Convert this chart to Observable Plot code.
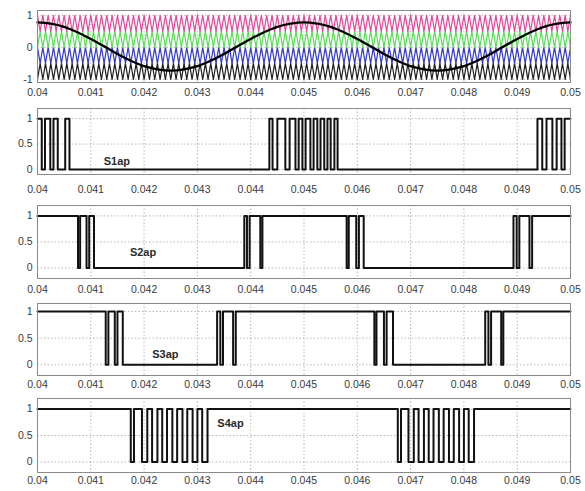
<!DOCTYPE html>
<html><head><meta charset="utf-8">
<script src="https://cdn.jsdelivr.net/npm/d3@7"></script>
<script src="https://cdn.jsdelivr.net/npm/@observablehq/plot@0.6"></script>
<style>
body{margin:0;background:#fff;}
#chart{position:relative;width:585px;height:491px;overflow:hidden;}
#chart svg{position:absolute;left:0;}
</style></head><body><div id="chart"></div>
<script>
// ---------- data ----------
const xDomain = [0.04, 0.05];
const xTicks = [0.04,0.041,0.042,0.043,0.044,0.045,0.046,0.047,0.048,0.049,0.05];
const xTickLabels = ["0.04","0.041","0.042","0.043","0.044","0.045","0.046","0.047","0.048","0.049","0.05"];
const refYTicks = [-1, 0, 1];
const refYTickLabels = ["-1", "0", "1"];
const pulseYTicks = [0, 0.5, 1];
const pulseYTickLabels = ["0", "0.5", "1"];

// carrier vertex times (triangular carriers, 10 kHz)
const carrierVertexTimes = [
0.04,0.04005,0.0401,0.04015,0.0402,0.04025,0.0403,0.04035,0.0404,0.04045,0.0405,0.04055,0.0406,0.04065,0.0407,0.04075,0.0408,0.04085,0.0409,0.04095,
0.041,0.04105,0.0411,0.04115,0.0412,0.04125,0.0413,0.04135,0.0414,0.04145,0.0415,0.04155,0.0416,0.04165,0.0417,0.04175,0.0418,0.04185,0.0419,0.04195,
0.042,0.04205,0.0421,0.04215,0.0422,0.04225,0.0423,0.04235,0.0424,0.04245,0.0425,0.04255,0.0426,0.04265,0.0427,0.04275,0.0428,0.04285,0.0429,0.04295,
0.043,0.04305,0.0431,0.04315,0.0432,0.04325,0.0433,0.04335,0.0434,0.04345,0.0435,0.04355,0.0436,0.04365,0.0437,0.04375,0.0438,0.04385,0.0439,0.04395,
0.044,0.04405,0.0441,0.04415,0.0442,0.04425,0.0443,0.04435,0.0444,0.04445,0.0445,0.04455,0.0446,0.04465,0.0447,0.04475,0.0448,0.04485,0.0449,0.04495,
0.045,0.04505,0.0451,0.04515,0.0452,0.04525,0.0453,0.04535,0.0454,0.04545,0.0455,0.04555,0.0456,0.04565,0.0457,0.04575,0.0458,0.04585,0.0459,0.04595,
0.046,0.04605,0.0461,0.04615,0.0462,0.04625,0.0463,0.04635,0.0464,0.04645,0.0465,0.04655,0.0466,0.04665,0.0467,0.04675,0.0468,0.04685,0.0469,0.04695,
0.047,0.04705,0.0471,0.04715,0.0472,0.04725,0.0473,0.04735,0.0474,0.04745,0.0475,0.04755,0.0476,0.04765,0.0477,0.04775,0.0478,0.04785,0.0479,0.04795,
0.048,0.04805,0.0481,0.04815,0.0482,0.04825,0.0483,0.04835,0.0484,0.04845,0.0485,0.04855,0.0486,0.04865,0.0487,0.04875,0.0488,0.04885,0.0489,0.04895,
0.049,0.04905,0.0491,0.04915,0.0492,0.04925,0.0493,0.04935,0.0494,0.04945,0.0495,0.04955,0.0496,0.04965,0.0497,0.04975,0.0498,0.04985,0.0499,0.04995,
0.05];
const carrierNames = ["black", "blue", "green", "magenta"];
const carrierEvenLevels = [-1, 0, 0, 1];
const carrierOddLevels = [-0.5, -0.5, 0.5, 0.5];

// reference sine
const sineTimes = [0.04,0.04025,0.0405,0.04075,0.041,0.04125,0.0415,0.04175,0.042,0.04225,0.0425,0.04275,0.043,0.04325,0.0435,0.04375,0.044,0.04425,0.0445,0.04475,
0.045,0.04525,0.0455,0.04575,0.046,0.04625,0.0465,0.04675,0.047,0.04725,0.0475,0.04775,0.048,0.04825,0.0485,0.04875,0.049,0.04925,0.0495,0.04975,0.05];
const sineValues = [0.78,0.74,0.64,0.47,0.26,0.03,-0.21,-0.42,-0.59,-0.69,-0.73,-0.69,-0.59,-0.42,-0.21,0.03,0.26,0.47,0.64,0.74,
0.78,0.74,0.64,0.47,0.26,0.03,-0.21,-0.42,-0.59,-0.69,-0.73,-0.69,-0.59,-0.42,-0.21,0.03,0.26,0.47,0.64,0.74,0.78];

// gate signals: intervals where the signal is 1
const s1apHigh = [[0.04,0.04008],[0.04014,0.04024],[0.0403,0.04038],[0.04052,0.0406],
[0.04435,0.04441],[0.0445,0.04465],[0.04473,0.04484],[0.0449,0.04497],[0.04503,0.04512],[0.04518,0.04525],[0.04531,0.04538],[0.04544,0.0455],[0.04557,0.04563],
[0.04938,0.04947],[0.04955,0.04966],[0.04974,0.04983],[0.04989,0.05]];
const s2apHigh = [[0.04,0.04076],[0.0408,0.04092],[0.04097,0.04106],
[0.04388,0.04393],[0.04398,0.04418],[0.04422,0.0458],[0.04584,0.04598],[0.04603,0.04612],
[0.04893,0.04899],[0.04904,0.04923],[0.04928,0.05]];
const s3apHigh = [[0.04,0.04128],[0.04133,0.04145],[0.0415,0.0416],
[0.04337,0.04343],[0.04348,0.04367],[0.04372,0.04632],[0.04636,0.0465],[0.04655,0.04667],
[0.0484,0.04846],[0.04851,0.0487],[0.04874,0.05]];
const s4apHigh = [[0.04,0.04175],[0.04181,0.04196],[0.04206,0.04215],[0.04225,0.04234],[0.04243,0.04253],[0.04262,0.04272],[0.04281,0.04291],[0.043,0.04309],
[0.04319,0.04676],[0.04682,0.04696],[0.04706,0.04715],[0.04725,0.04734],[0.04743,0.04753],[0.04762,0.04772],[0.04781,0.04791],[0.048,0.04809],[0.04819,0.05]];
const signalNames = ["S1ap", "S2ap", "S3ap", "S4ap"];
const signalLabelTimes = [0.04149, 0.04198, 0.0424, 0.04362];
const signalLabelValues = [0.15, 0.3, 0.2, 0.72];

// ---------- drawing ----------
const carrierColors = {black: "#202020", blue: "#3539c4", green: "#5bdc5b", magenta: "#e04a9c"};
const chart = document.getElementById("chart");
const fmtX = d => xTickLabels[xTicks.indexOf(d)];

function stepPoints(high) {
  const [t0, t1] = xDomain;
  const pts = [];
  if (high[0][0] > t0) pts.push({t: t0, v: 0});
  for (const [a, b] of high) {
    if (a > t0) pts.push({t: a, v: 0});
    pts.push({t: a, v: 1});
    pts.push({t: b, v: 1});
    if (b < t1) pts.push({t: b, v: 0});
  }
  if (high[high.length - 1][1] < t1) pts.push({t: t1, v: 0});
  return pts;
}

function panel({top, bottom, yDomain, yTicks, yTickLabels, labelPad, marks}) {
  const mt = 4, mb = 22;
  const fmtY = d => yTickLabels[yTicks.indexOf(d)];
  const svg = Plot.plot({
    width: 585, height: bottom - top + mt + mb,
    marginTop: mt, marginBottom: mb, marginLeft: 37, marginRight: 15,
    x: {domain: xDomain, label: null},
    y: {domain: yDomain, label: null},
    style: {fontFamily: "'Liberation Sans', Arial, sans-serif", fontSize: "10.5px", color: "#3a3a3a", background: "transparent", overflow: "visible"},
    marks: [
      Plot.gridX(xTicks, {stroke: "#9a9a9a", strokeOpacity: 0.7, strokeDasharray: "1.5,2"}),
      Plot.gridY(yTicks, {stroke: "#9a9a9a", strokeOpacity: 0.7, strokeDasharray: "1.5,2"}),
      ...marks,
      Plot.frame({stroke: "#8a8a8a"}),
      Plot.axisX(xTicks, {anchor: "bottom", tickSize: 0, tickPadding: labelPad, tickFormat: fmtX, label: null}),
      Plot.axisY(yTicks, {anchor: "left", tickSize: 0, tickPadding: 5, tickFormat: fmtY, label: null})
    ]
  });
  svg.style.top = (top - mt) + "px";
  chart.appendChild(svg);
}

// top panel: carriers + reference
const carrierMarks = carrierNames.map((name, j) => {
  const pts = carrierVertexTimes.map((t, k) => ({t, v: k % 2 === 0 ? carrierEvenLevels[j] : carrierOddLevels[j]}));
  return Plot.line(pts, {x: "t", y: "v", stroke: carrierColors[name], strokeWidth: 1.2});
});
panel({
  top: 10, bottom: 82, yDomain: [-1.1, 1.15], yTicks: refYTicks, yTickLabels: refYTickLabels, labelPad: 6,
  marks: [
    ...carrierMarks,
    Plot.line(sineValues, {x: sineTimes, y: sineValues, curve: "catmull-rom", stroke: "#000", strokeWidth: 2.4})
  ]
});

const pulseLayout = [
  {top: 108, bottom: 174, yDomain: [-0.1, 1.2], labelPad: 11},
  {top: 205, bottom: 278, yDomain: [-0.2, 1.2], labelPad: 7},
  {top: 303, bottom: 375, yDomain: [-0.2, 1.15], labelPad: 5},
  {top: 398, bottom: 472, yDomain: [-0.2, 1.2], labelPad: 4}
];
[s1apHigh, s2apHigh, s3apHigh, s4apHigh].forEach((high, i) => {
  panel({
    ...pulseLayout[i], yTicks: pulseYTicks, yTickLabels: pulseYTickLabels,
    marks: [
      Plot.line(stepPoints(high), {x: "t", y: "v", stroke: "#111", strokeWidth: 2}),
      Plot.text([signalNames[i]], {x: [signalLabelTimes[i]], y: [signalLabelValues[i]], text: [signalNames[i]], fontSize: 11, fill: "#2a2a2a", fontWeight: "bold"})
    ]
  });
});
</script></body></html>
